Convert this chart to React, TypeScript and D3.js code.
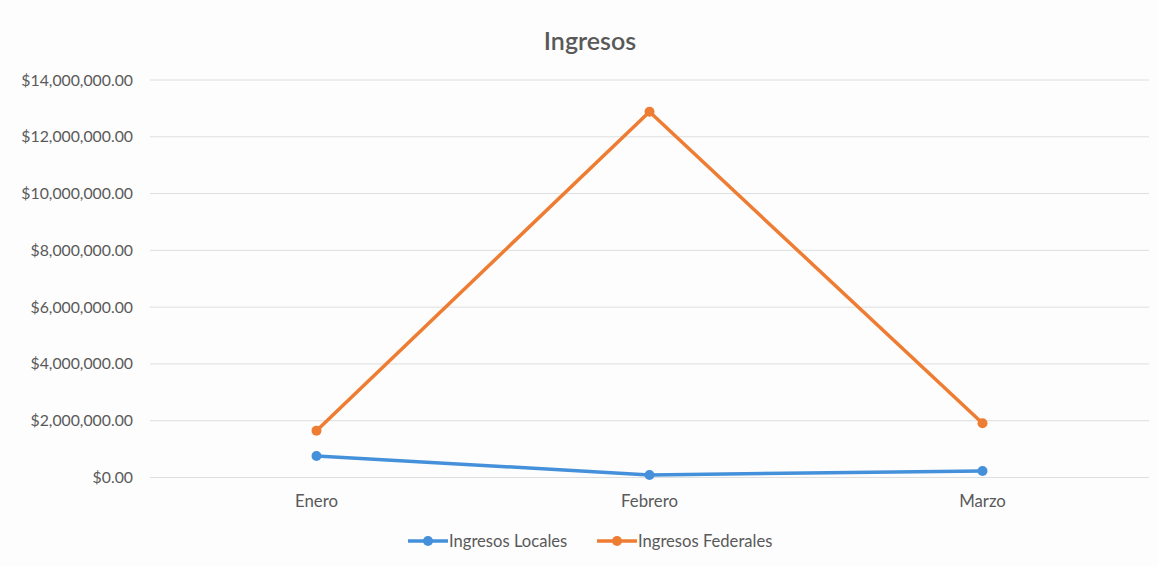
import React, { useEffect, useRef } from 'react';
import * as d3 from 'd3';

const months = ['Enero', 'Febrero', 'Marzo'];
const ingresosLocales = [760000, 90000, 230000];
const ingresosFederales = [1650000, 12880000, 1910000];
const yTicks = [0, 2000000, 4000000, 6000000, 8000000, 10000000, 12000000, 14000000];

const seriesList = [
  { name: 'Ingresos Locales', values: ingresosLocales, color: '#4590da' },
  { name: 'Ingresos Federales', values: ingresosFederales, color: '#ee7d33' },
];

const WIDTH = 1158;
const HEIGHT = 567;
const FONT = 'Lato, "Open Sans", sans-serif';
const TEXT = '#595959';

const App: React.FC = () => {
  const svgRef = useRef<SVGSVGElement>(null);

  useEffect(() => {
    const svg = d3.select(svgRef.current);
    svg.selectAll('*').remove();

    const margin = { top: 80, right: 9, bottom: 89.5, left: 150 };
    const innerWidth = WIDTH - margin.left - margin.right;
    const innerHeight = HEIGHT - margin.top - margin.bottom;

    svg.append('rect')
      .attr('width', WIDTH)
      .attr('height', HEIGHT)
      .attr('fill', '#fdfdfd');

    // Title
    svg.append('text')
      .attr('x', 590)
      .attr('y', 50)
      .attr('text-anchor', 'middle')
      .style('font-family', FONT)
      .style('font-size', '25px')
      .style('font-weight', 600)
      .style('fill', TEXT)
      .text('Ingresos');

    const g = svg.append('g')
      .attr('transform', `translate(${margin.left},${margin.top})`);

    const xScale = d3.scalePoint<string>()
      .domain(months)
      .range([0, innerWidth])
      .padding(0.5);

    const yScale = d3.scaleLinear()
      .domain([0, 14000000])
      .range([innerHeight, 0]);

    // Gridlines
    g.append('g')
      .selectAll('line')
      .data(yTicks)
      .enter()
      .append('line')
      .attr('x1', 0)
      .attr('x2', innerWidth)
      .attr('y1', d => yScale(d))
      .attr('y2', d => yScale(d))
      .attr('stroke', '#dedede')
      .attr('stroke-width', 1);

    // Y axis labels
    const fmt = d3.format('$,.2f');
    g.append('g')
      .selectAll('text')
      .data(yTicks)
      .enter()
      .append('text')
      .attr('x', -17)
      .attr('y', d => yScale(d))
      .attr('dy', '0.35em')
      .attr('text-anchor', 'end')
      .style('font-family', FONT)
      .style('font-size', '15.8px')
      .style('fill', TEXT)
      .text(d => fmt(d));

    // X axis labels
    g.append('g')
      .selectAll('text')
      .data(months)
      .enter()
      .append('text')
      .attr('x', d => xScale(d) as number)
      .attr('y', innerHeight + 29)
      .attr('text-anchor', 'middle')
      .style('font-family', FONT)
      .style('font-size', '16.8px')
      .style('fill', TEXT)
      .text(d => d);

    // Lines
    const line = d3.line<number>()
      .x((d, i) => xScale(months[i]) as number)
      .y(d => yScale(d));

    seriesList.forEach(s => {
      g.append('path')
        .datum(s.values)
        .attr('d', line)
        .attr('fill', 'none')
        .attr('stroke', s.color)
        .attr('stroke-width', 3.5)
        .attr('stroke-linejoin', 'round')
        .attr('stroke-linecap', 'round');

      g.selectAll(null)
        .data(s.values)
        .enter()
        .append('circle')
        .attr('cx', (d, i) => xScale(months[i]) as number)
        .attr('cy', d => yScale(d))
        .attr('r', 5)
        .attr('fill', s.color);
    });

    // Legend
    const legendX = [408, 597];
    const legend = svg.append('g').attr('transform', 'translate(0, 541)');
    seriesList.forEach((s, i) => {
      const item = legend.append('g').attr('transform', `translate(${legendX[i]}, 0)`);
      item.append('line')
        .attr('x1', 0)
        .attr('x2', 40)
        .attr('y1', 0)
        .attr('y2', 0)
        .attr('stroke', s.color)
        .attr('stroke-width', 3.5);
      item.append('circle')
        .attr('cx', 20)
        .attr('cy', 0)
        .attr('r', 5)
        .attr('fill', s.color);
      item.append('text')
        .attr('x', 41)
        .attr('y', 0)
        .attr('dy', '0.35em')
        .style('font-family', FONT)
        .style('font-size', '16.6px')
        .style('fill', TEXT)
        .text(s.name);
    });
  }, []);

  return (
    <div style={{ position: 'absolute', left: 0, top: 0 }}>
      <svg ref={svgRef} width={WIDTH} height={HEIGHT} style={{ display: 'block' }} />
    </div>
  );
};

export default App;
